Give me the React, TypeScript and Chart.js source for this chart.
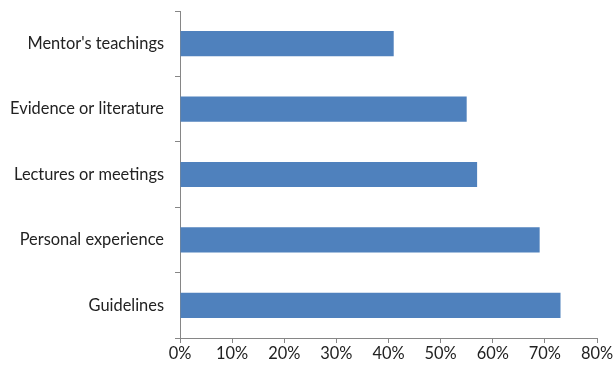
import React, { useEffect, useRef } from "react";
import { Chart, registerables } from "chart.js";

Chart.register(...registerables);

const categories = [
  "Mentor's teachings",
  "Evidence or literature",
  "Lectures or meetings",
  "Personal experience",
  "Guidelines",
];
const values = [41, 55, 57, 69, 73];
const xTicksMin = 0;
const xTicksMax = 80;
const xTickStep = 10;

export default function App() {
  const ref = useRef<HTMLCanvasElement | null>(null);

  useEffect(() => {
    if (!ref.current) return;
    const axisColor = "#868686";
    const font = { family: "Lato, 'Open Sans', sans-serif", size: 16.4 };
    const chart = new Chart(ref.current, {
      type: "bar",
      data: {
        labels: categories,
        datasets: [
          {
            data: values,
            backgroundColor: "#4F81BD",
            borderColor: "#4A7BB7",
            borderWidth: 0,
            barPercentage: 0.385,
            categoryPercentage: 1,
          },
        ],
      },
      options: {
        indexAxis: "y",
        animation: false,
        responsive: false,
        maintainAspectRatio: false,
        layout: { padding: { top: 11, right: 18, left: 0, bottom: 0 } },
        plugins: { legend: { display: false }, tooltip: { enabled: false } },
        scales: {
          x: {
            min: xTicksMin,
            max: xTicksMax,
            ticks: {
              stepSize: xTickStep,
              color: "#222",
              font,
              padding: 1,
              maxRotation: 0,
              callback: (v: any) => v + "%",
            },
            grid: {
              drawOnChartArea: false,
              drawTicks: true,
              tickLength: 5,
              color: axisColor,
            },
            border: { color: axisColor, width: 1 },
            afterFit: (s: any) => {
              s.height = 36;
            },
          },
          y: {
            ticks: { color: "#222", font, padding: 11 },
            grid: {
              drawOnChartArea: false,
              drawTicks: true,
              tickLength: 5,
              color: axisColor,
              offset: true,
            },
            border: { color: axisColor, width: 1 },
            afterFit: (s: any) => {
              s.width = 180;
              s.paddingTop = 0;
              s.paddingBottom = 0;
            },
          },
        },
      },
    });
    return () => chart.destroy();
  }, []);

  return (
    <div style={{ position: "fixed", left: 0, top: 0, width: 615, height: 374, background: "#fff" }}>
      <canvas ref={ref} width={615} height={374} style={{ display: "block" }} />
    </div>
  );
}
